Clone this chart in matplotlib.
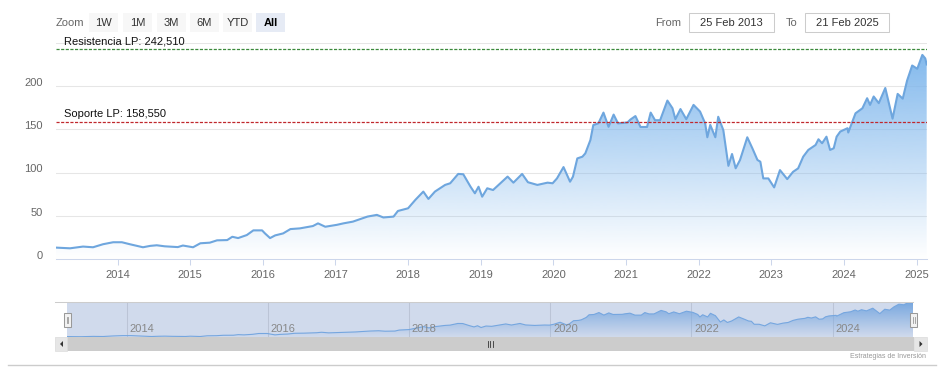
import numpy as np
import matplotlib
matplotlib.use("Agg")
import matplotlib.pyplot as plt
from matplotlib.patches import Rectangle, Polygon
from matplotlib.colors import to_rgb
import matplotlib.transforms as mtransforms

plt.rcParams['font.family'] = ['Liberation Sans', 'DejaVu Sans']

# price series (decimal year, close)
years = [2013.153, 2013.346, 2013.525, 2013.663, 2013.80, 2013.94, 2014.06, 2014.17,
         2014.35, 2014.45, 2014.54, 2014.65, 2014.83, 2014.90, 2015.04, 2015.14,
         2015.27, 2015.37, 2015.51, 2015.58, 2015.66, 2015.78, 2015.87, 2015.99,
         2016.03, 2016.10, 2016.17, 2016.28, 2016.38, 2016.51, 2016.69, 2016.76,
         2016.86, 2017.02, 2017.11, 2017.24, 2017.44, 2017.57, 2017.66, 2017.80,
         2017.86, 2018.00, 2018.10, 2018.21, 2018.28, 2018.37, 2018.51, 2018.58,
         2018.69, 2018.76, 2018.86, 2018.92, 2018.97, 2019.02, 2019.09, 2019.17,
         2019.27, 2019.37, 2019.45, 2019.57, 2019.65, 2019.78, 2019.92, 2019.99,
         2020.05, 2020.14, 2020.23, 2020.27, 2020.33, 2020.40, 2020.44, 2020.51,
         2020.55, 2020.62, 2020.69, 2020.76, 2020.83, 2020.89, 2021.02, 2021.06,
         2021.13, 2021.20, 2021.29, 2021.34, 2021.40, 2021.47, 2021.57, 2021.64,
         2021.68, 2021.75, 2021.83, 2021.93, 2022.02, 2022.09, 2022.12, 2022.16,
         2022.23, 2022.27, 2022.34, 2022.41, 2022.46, 2022.51, 2022.57, 2022.67,
         2022.74, 2022.81, 2022.85, 2022.89, 2022.96, 2023.04, 2023.12, 2023.22,
         2023.30, 2023.37, 2023.44, 2023.51, 2023.61, 2023.65, 2023.70, 2023.76,
         2023.81, 2023.86, 2023.90, 2023.95, 2024.05, 2024.06, 2024.16, 2024.255,
         2024.32, 2024.36, 2024.41, 2024.48, 2024.57, 2024.67, 2024.74, 2024.81,
         2024.87, 2024.94, 2025.01, 2025.08, 2025.12, 2025.14]
prices = [13.5, 12.7, 14.7, 13.9, 17.4, 19.7, 19.7, 17.4,
          13.9, 15.5, 16.2, 15.0, 14.1, 15.9, 13.9, 18.5,
          19.2, 21.9, 22.2, 26.0, 24.5, 28.0, 33.4, 33.4,
          29.9, 24.5, 27.6, 29.9, 34.9, 35.7, 38.4, 41.5,
          37.6, 39.8, 41.5, 43.5, 49.3, 51.3, 48.3, 49.3,
          55.8, 58.9, 68.6, 78.2, 69.7, 78.2, 85.9, 87.8,
          98.6, 98.2, 83.8, 76.2, 83.8, 72.3, 82.0, 80.0,
          87.8, 95.5, 88.5, 98.6, 89.0, 85.9, 88.5, 87.8,
          93.4, 106.5, 89.6, 95.4, 116.5, 118.5, 122.3, 137.7,
          155.0, 157.0, 169.4, 153.0, 167.1, 157.0, 158.0, 161.3,
          165.4, 152.8, 152.8, 169.4, 160.6, 160.6, 183.3, 174.5,
          161.8, 173.5, 161.8, 178.3, 170.6, 157.0, 140.9, 155.2,
          140.9, 164.6, 149.2, 107.9, 121.6, 105.1, 114.7, 140.9,
          128.2, 114.7, 112.7, 93.4, 93.4, 83.0, 103.0, 92.6,
          101.0, 105.0, 118.5, 126.3, 132.0, 138.6, 134.0, 141.6,
          126.3, 128.2, 141.6, 147.5, 151.4, 146.4, 168.6, 174.4,
          186.0, 178.3, 188.0, 180.3, 197.8, 162.4, 191.0, 185.5,
          206.4, 223.8, 220.0, 236.0, 232.0, 225.0]

x_ticks = list(range(2014, 2026))
nav_ticks = [2014, 2016, 2018, 2020, 2022, 2024]
y_ticks = [0, 50, 100, 150, 200]

plot_lines = [(242.51, 'Resistencia LP: 242,510', '#3c8a3c'),
              (158.55, 'Soporte LP: 158,550', '#c0282d')]

range_buttons = ['1W', '1M', '3M', '6M', 'YTD', 'All']
date_from = '25 Feb 2013'
date_to = '21 Feb 2025'

W, H = 948, 383
SERIES = '#7cb5ec'
LINE = '#6ea6de'


def px_box(l, t, r, b):
    return [l / W, 1 - b / H, (r - l) / W, (b - t) / H]


def gradient_area(ax, x, y, ytop, ybot, alpha_top=1.0):
    verts = [(x[0], ybot)] + list(zip(x, y)) + [(x[-1], ybot)]
    clip = Polygon(verts, closed=True, facecolor='none', edgecolor='none')
    ax.add_patch(clip)
    grad = np.zeros((256, 1, 4))
    grad[..., :3] = to_rgb(SERIES)
    grad[..., 3] = np.linspace(alpha_top, 0, 256)[:, None]
    im = ax.imshow(grad, aspect='auto', origin='upper', interpolation='bilinear',
                   extent=[x[0], x[-1], ybot, ytop], zorder=1)
    im.set_clip_path(clip)


fig = plt.figure(figsize=(W / 100, H / 100), dpi=100)
fig.patch.set_facecolor('white')

# ---- main chart
ax = fig.add_axes(px_box(56, 42.8, 926.7, 259.3))
gradient_area(ax, years, prices, 250, 0)
ax.plot(years, prices, color=LINE, lw=1.5, zorder=3, solid_joinstyle='round')
ax.set_xlim(years[0], years[-1])
ax.set_ylim(0, 250)

ax.set_yticks(y_ticks + [250])
ax.set_yticklabels([str(v) for v in y_ticks] + [''])
ax.set_xticks(x_ticks)
ax.set_xticklabels([str(v) for v in x_ticks])
ax.grid(axis='y', color='#e6e6e6', lw=0.75, zorder=0)
ax.set_axisbelow(True)
for s in ['top', 'right', 'left']:
    ax.spines[s].set_visible(False)
ax.spines['bottom'].set_color('#ccd6eb')
ax.spines['bottom'].set_linewidth(0.75)
ax.tick_params(axis='y', length=0, pad=9.5, labelsize=8, labelcolor='#666666')
ax.tick_params(axis='x', length=4.5, width=0.75, color='#ccd6eb', pad=3,
               labelsize=8, labelcolor='#666666')
shift = mtransforms.ScaledTranslation(0, 4.5 / 100, fig.dpi_scale_trans)
for lbl in ax.get_yticklabels():
    lbl.set_transform(lbl.get_transform() + shift)

for val, txt, col in plot_lines:
    ax.axhline(val, color=col, lw=0.9, dashes=(2.5, 1.2), zorder=4)
    ax.annotate(txt, xy=(0, val), xycoords=('axes fraction', 'data'),
                xytext=(6, 1.8), textcoords='offset points', fontsize=8,
                color='#111111', va='bottom', ha='left', zorder=5)

# ---- navigator
nav = fig.add_axes(px_box(67, 302, 913, 337))
nav_lo, nav_hi = min(prices) - 2, max(prices) + 2
for t in nav_ticks:
    nav.axvline(t, color='#e0e0e0', lw=0.75, zorder=0)
    nav.annotate(str(t), xy=(t, 0), xycoords=('data', 'axes fraction'),
                 xytext=(2, 2.5), textcoords='offset points', fontsize=8,
                 color='#888888', ha='left', va='bottom', zorder=6)
gradient_area(nav, years, prices, nav_hi, nav_lo)
nav.plot(years, prices, color=SERIES, lw=0.8, zorder=3)
nav.set_xlim(years[0], years[-1])
nav.set_ylim(nav_lo, nav_hi)
nav.add_patch(Rectangle((0, 0), 1, 1, transform=nav.transAxes,
                        facecolor='#6685c2', alpha=0.3, zorder=5, lw=0))
nav.axis('off')

# ---- overlay in pixel coordinates for the UI bits
ui = fig.add_axes([0, 0, 1, 1], zorder=10)
ui.set_xlim(0, W)
ui.set_ylim(H, 0)
ui.axis('off')
ui.patch.set_alpha(0)

ui.text(56, 22.5, 'Zoom', fontsize=8, color='#666666', va='center', ha='left')
bx = [89, 123, 157, 190, 223, 256]
for x0, lab in zip(bx, range_buttons):
    sel = lab == 'All'
    ui.add_patch(Rectangle((x0, 13), 29, 19, facecolor='#e6ebf5' if sel else '#f7f7f7',
                           edgecolor='none'))
    ui.text(x0 + 14.5, 22.5, lab, fontsize=8, color='#000000' if sel else '#333333',
            fontweight='bold' if sel else 'normal', ha='center', va='center')

ui.text(655, 22.5, 'From', fontsize=8, color='#666666', va='center', ha='left')
ui.add_patch(Rectangle((689, 13), 85, 19, facecolor='white', edgecolor='#cccccc', lw=0.75))
ui.text(731.5, 22.5, date_from, fontsize=8, color='#333333', va='center', ha='center')
ui.text(786, 22.5, 'To', fontsize=8, color='#666666', va='center', ha='left')
ui.add_patch(Rectangle((805, 13), 84, 19, facecolor='white', edgecolor='#cccccc', lw=0.75))
ui.text(847, 22.5, date_to, fontsize=8, color='#333333', va='center', ha='center')

# navigator outline and handles
ui.plot([55, 913], [302, 302], color='#cccccc', lw=0.75)
for hx in [64, 910.5]:
    ui.add_patch(Rectangle((hx, 313), 7, 14, facecolor='#f2f2f2', edgecolor='#999999', lw=0.75))
    ui.plot([hx + 2.6, hx + 2.6], [317, 323], color='#999999', lw=0.6)
    ui.plot([hx + 4.4, hx + 4.4], [317, 323], color='#999999', lw=0.6)

# scrollbar
ui.add_patch(Rectangle((55, 337), 872, 14, facecolor='#f2f2f2', edgecolor='none'))
ui.add_patch(Rectangle((67, 337), 847, 14, facecolor='#cccccc', edgecolor='none'))
ui.add_patch(Rectangle((55, 337), 12, 14, facecolor='#e6e6e6', edgecolor='#dddddd', lw=0.5))
ui.add_patch(Rectangle((914, 337), 13, 14, facecolor='#e6e6e6', edgecolor='#dddddd', lw=0.5))
ui.add_patch(Polygon([(63, 341), (63, 347), (60, 344)], facecolor='#333333', edgecolor='none'))
ui.add_patch(Polygon([(919.5, 341), (919.5, 347), (922.5, 344)], facecolor='#333333',
                     edgecolor='none'))
for gx in [488, 490.5, 493]:
    ui.plot([gx, gx], [341, 347], color='#333333', lw=0.6)

ui.text(926, 357, 'Estrategias de Inversión', fontsize=5, color='#999999',
        ha='right', va='center')
ui.plot([8, 936], [364.5, 364.5], color='#cccccc', lw=1)

fig.savefig('out.png', dpi=100, facecolor='white')
